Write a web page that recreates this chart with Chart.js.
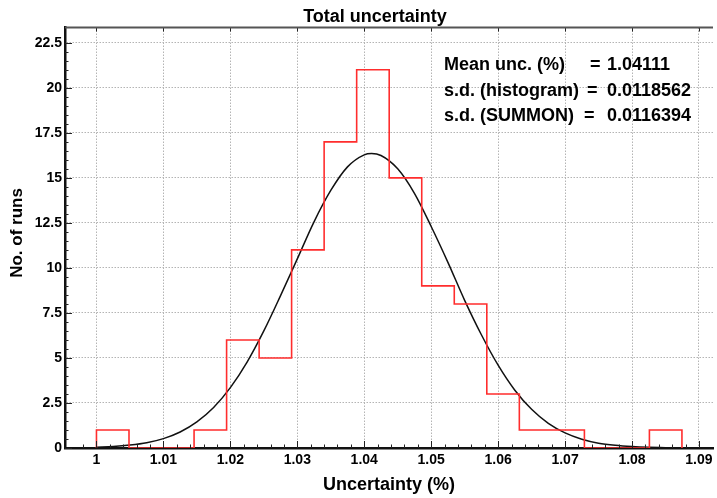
<!DOCTYPE html>
<html>
<head>
<meta charset="utf-8">
<title>Total uncertainty</title>
<script src="https://cdn.jsdelivr.net/npm/chart.js@4.4.1/dist/chart.umd.min.js"></script>
<style>
    html, body { margin: 0; padding: 0; background: #fff; }
    #wrap { width: 717px; height: 498px; }
</style>
</head>
<body>
<div id="wrap"><canvas id="uncChart" width="717" height="498"></canvas></div>
<script>
// histogram: bin edges (%) and number of runs in each bin
var binEdges = [1.0, 1.00486, 1.00972, 1.01458, 1.01944, 1.02430, 1.02915, 1.03401,
    1.03887, 1.04373, 1.04859, 1.05345, 1.05831, 1.06317, 1.06803, 1.07289,
    1.07774, 1.08260, 1.08746];
var binCounts = [1, 0, 0, 1, 6, 5, 11, 17, 21, 15, 9, 8, 3, 1, 1, 0, 0, 1];

// gaussian fit curve
var fitX = [1.0, 1.0025, 1.005, 1.0075, 1.01, 1.0125, 1.015, 1.0175, 1.02, 1.0225,
    1.025, 1.0275, 1.03, 1.0325, 1.035, 1.0375, 1.04, 1.0411, 1.0425, 1.045,
    1.0475, 1.05, 1.0525, 1.055, 1.0575, 1.06, 1.0625, 1.065, 1.0675, 1.07,
    1.0725, 1.075, 1.0775, 1.08, 1.0825, 1.085];
var fitY = [0.04, 0.08, 0.16, 0.29, 0.52, 0.89, 1.45, 2.25, 3.35, 4.77,
    6.5, 8.46, 10.5, 12.56, 14.3, 15.61, 16.28, 16.35, 16.24, 15.5,
    14.14, 12.3, 10.31, 8.2, 6.29, 4.6, 3.21, 2.15, 1.37, 0.84,
    0.49, 0.27, 0.15, 0.08, 0.04, 0.02];

var statNames = ['Mean unc. (%)', 's.d. (histogram)', 's.d. (SUMMON)'];
var statValues = ['1.04111', '0.0118562', '0.0116394'];

var xMajorStep = 0.01, xMinorStep = 0.002;
var yMajorStep = 2.5, yMinorStep = 0.5;

var FONT = '"Liberation Sans", Arial, Helvetica, sans-serif';

function isMult(v, step) {
    var r = v / step;
    return Math.abs(r - Math.round(r)) < 1e-6;
}

function histPoints() {
    var pts = [{x: binEdges[0], y: 0}];
    for (var i = 0; i < binCounts.length; i++) {
        pts.push({x: binEdges[i], y: binCounts[i]});
    }
    pts.push({x: binEdges[binEdges.length - 1], y: 0});
    return pts;
}

function fitPoints() {
    return fitX.map(function(x, i) { return {x: x, y: fitY[i]}; });
}

// ROOT style frame: inward ticks, top border, titles and stats text
var rootFrame = {
    id: 'rootFrame',
    afterDatasetsDraw: function(chart) {
        var ctx = chart.ctx, a = chart.chartArea;
        var xs = chart.scales.x, ys = chart.scales.y;
        ctx.save();
        ctx.strokeStyle = '#222';
        ctx.lineWidth = 1;
        ctx.beginPath();
        xs.ticks.forEach(function(t) {
            if (!isMult(t.value, xMinorStep)) return;
            var px = Math.round(xs.getPixelForValue(t.value)) + 0.5;
            var len = isMult(t.value, xMajorStep) ? 7 : 3.5;
            ctx.moveTo(px, a.bottom);
            ctx.lineTo(px, a.bottom - len);
            if (isMult(t.value, xMajorStep)) {
                ctx.moveTo(px, a.top);
                ctx.lineTo(px, a.top + 4);
            }
        });
        ys.ticks.forEach(function(t) {
            if (!isMult(t.value, yMinorStep)) return;
            var py = Math.round(ys.getPixelForValue(t.value)) + 0.5;
            var len = isMult(t.value, yMajorStep) ? 7 : 3.5;
            ctx.moveTo(a.left, py);
            ctx.lineTo(a.left + len, py);
        });
        ctx.stroke();

        ctx.strokeStyle = '#555';
        ctx.lineWidth = 2;
        ctx.beginPath();
        ctx.moveTo(a.left, a.top);
        ctx.lineTo(a.right, a.top);
        ctx.stroke();
        ctx.restore();
    },
    afterDraw: function(chart) {
        var ctx = chart.ctx;
        ctx.save();
        ctx.fillStyle = '#000';
        ctx.textBaseline = 'middle';
        ctx.textAlign = 'center';
        ctx.font = 'bold 18px ' + FONT;
        ctx.fillText('Total uncertainty', 375, 17);

        // y axis title
        ctx.save();
        ctx.translate(17, 233);
        ctx.rotate(-Math.PI / 2);
        ctx.font = 'bold 17px ' + FONT;
        ctx.fillText('No. of runs', 0, 0);
        ctx.restore();

        ctx.textAlign = 'left';
        ctx.font = 'bold 18px ' + FONT;
        var rowY = [65, 91, 116];
        var eqX = [590, 587, 584];
        for (var i = 0; i < statNames.length; i++) {
            ctx.fillText(statNames[i], 444, rowY[i]);
            ctx.fillText('=', eqX[i], rowY[i]);
            ctx.fillText(statValues[i], 607, rowY[i]);
        }
        ctx.restore();
    }
};

document.addEventListener("DOMContentLoaded", function() {
    var ctx = document.getElementById('uncChart').getContext('2d');
    new Chart(ctx, {
        type: 'line',
        data: {
            datasets: [{
                label: 'Runs',
                data: histPoints(),
                stepped: 'before',
                borderColor: 'rgb(255, 45, 45)',
                borderWidth: 1.6,
                pointRadius: 0,
                fill: false
            }, {
                label: 'Gaussian fit',
                data: fitPoints(),
                borderColor: '#111',
                borderWidth: 1.5,
                pointRadius: 0,
                cubicInterpolationMode: 'monotone',
                fill: false
            }]
        },
        options: {
            responsive: false,
            animation: false,
            devicePixelRatio: 1,
            layout: { padding: { top: 27.5, left: 0, right: 0, bottom: 0 } },
            plugins: {
                legend: { display: false },
                tooltip: { enabled: false },
                title: { display: false }
            },
            scales: {
                x: {
                    type: 'linear',
                    min: 0.9953,
                    max: 1.0921,
                    afterFit: function(scale) { scale.height = 50; },
                    ticks: {
                        stepSize: xMinorStep,
                        autoSkip: false,
                        maxRotation: 0,
                        minRotation: 0,
                        padding: 4,
                        color: '#000',
                        font: { family: FONT, size: 14, weight: 'bold' },
                        callback: function(v) {
                            return isMult(v, xMajorStep) ? String(Math.round(v * 100) / 100) : '';
                        }
                    },
                    grid: {
                        drawTicks: false,
                        lineWidth: 1,
                        color: function(c) {
                            return c.tick && isMult(c.tick.value, xMajorStep) ? '#b4b4b4' : 'rgba(0,0,0,0)';
                        }
                    },
                    border: { display: true, color: '#111', width: 2.5, dash: [1.5, 1.5] },
                    title: {
                        display: true,
                        text: 'Uncertainty (%)',
                        color: '#000',
                        font: { family: FONT, size: 18, weight: 'bold' },
                        padding: { top: 0, bottom: 2 }
                    }
                },
                y: {
                    min: 0,
                    max: 23.35,
                    afterFit: function(scale) { scale.width = 65; },
                    ticks: {
                        stepSize: yMinorStep,
                        autoSkip: false,
                        padding: 3,
                        color: '#000',
                        font: { family: FONT, size: 14, weight: 'bold' },
                        callback: function(v) {
                            return isMult(v, yMajorStep) ? String(v) : '';
                        }
                    },
                    grid: {
                        drawTicks: false,
                        lineWidth: 1,
                        color: function(c) {
                            return c.tick && isMult(c.tick.value, yMajorStep) && c.tick.value > 0 ? '#b4b4b4' : 'rgba(0,0,0,0)';
                        }
                    },
                    border: { display: true, color: '#111', width: 2.5, dash: [1.5, 1.5] },
                    title: { display: false }
                }
            }
        },
        plugins: [rootFrame]
    });
});
</script>
</body>
</html>
